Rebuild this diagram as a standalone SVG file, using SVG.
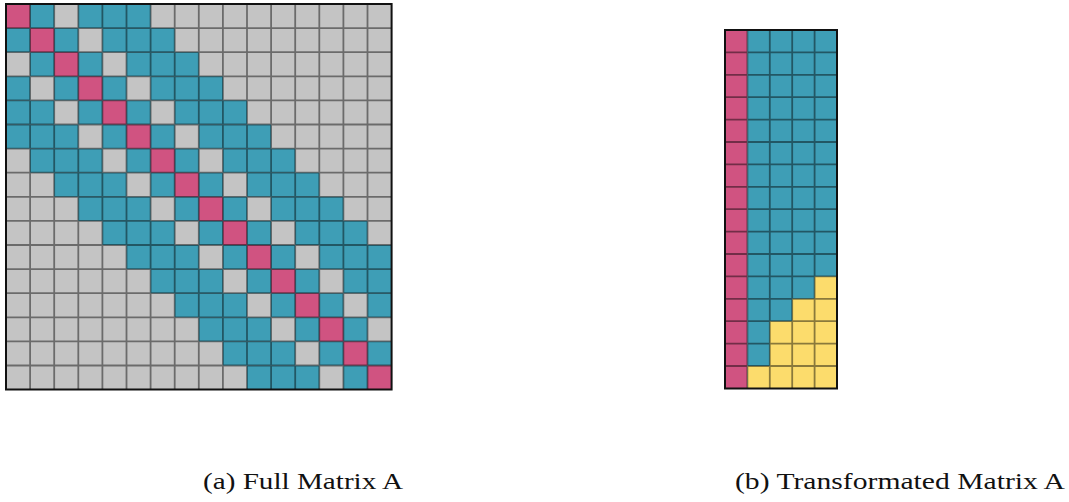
<svg xmlns="http://www.w3.org/2000/svg" width="1069" height="502" viewBox="0 0 1069 502">
<style>
.gry{fill:#c4c4c4}
.tea{fill:#3e9eb6}
.mag{fill:#d05381}
.yel{fill:#fcdc6c}
.grid{fill:none;stroke:#000;stroke-opacity:0.45;stroke-width:1.8}
.border{fill:none;stroke:#111;stroke-width:2}
.cap{font-family:"Liberation Serif","DejaVu Serif",serif;font-size:22.5px;fill:#111}
</style>
<rect width="1069" height="502" fill="#fff"/>
<g id="matrixA">
<g transform="translate(6,4) scale(24.1)">
<rect class="gry" x="0" y="0" width="16" height="16"/>
<g class="tea">
<rect x="0" y="0" width="6" height="1"/>
<rect x="0" y="1" width="7" height="1"/>
<rect x="0" y="2" width="8" height="1"/>
<rect x="0" y="3" width="9" height="1"/>
<rect x="0" y="4" width="10" height="1"/>
<rect x="0" y="5" width="11" height="1"/>
<rect x="1" y="6" width="11" height="1"/>
<rect x="2" y="7" width="11" height="1"/>
<rect x="3" y="8" width="11" height="1"/>
<rect x="4" y="9" width="11" height="1"/>
<rect x="5" y="10" width="11" height="1"/>
<rect x="6" y="11" width="10" height="1"/>
<rect x="7" y="12" width="9" height="1"/>
<rect x="8" y="13" width="8" height="1"/>
<rect x="9" y="14" width="7" height="1"/>
<rect x="10" y="15" width="6" height="1"/>
</g>
<g class="gry">
<rect x="2" y="0" width="1" height="1"/><rect x="0" y="2" width="1" height="1"/>
<rect x="3" y="1" width="1" height="1"/><rect x="1" y="3" width="1" height="1"/>
<rect x="4" y="2" width="1" height="1"/><rect x="2" y="4" width="1" height="1"/>
<rect x="5" y="3" width="1" height="1"/><rect x="3" y="5" width="1" height="1"/>
<rect x="6" y="4" width="1" height="1"/><rect x="4" y="6" width="1" height="1"/>
<rect x="7" y="5" width="1" height="1"/><rect x="5" y="7" width="1" height="1"/>
<rect x="8" y="6" width="1" height="1"/><rect x="6" y="8" width="1" height="1"/>
<rect x="9" y="7" width="1" height="1"/><rect x="7" y="9" width="1" height="1"/>
<rect x="10" y="8" width="1" height="1"/><rect x="8" y="10" width="1" height="1"/>
<rect x="11" y="9" width="1" height="1"/><rect x="9" y="11" width="1" height="1"/>
<rect x="12" y="10" width="1" height="1"/><rect x="10" y="12" width="1" height="1"/>
<rect x="13" y="11" width="1" height="1"/><rect x="11" y="13" width="1" height="1"/>
<rect x="14" y="12" width="1" height="1"/><rect x="12" y="14" width="1" height="1"/>
<rect x="15" y="13" width="1" height="1"/><rect x="13" y="15" width="1" height="1"/>
</g>
<g class="mag">
<rect x="0" y="0" width="1" height="1"/><rect x="1" y="1" width="1" height="1"/>
<rect x="2" y="2" width="1" height="1"/><rect x="3" y="3" width="1" height="1"/>
<rect x="4" y="4" width="1" height="1"/><rect x="5" y="5" width="1" height="1"/>
<rect x="6" y="6" width="1" height="1"/><rect x="7" y="7" width="1" height="1"/>
<rect x="8" y="8" width="1" height="1"/><rect x="9" y="9" width="1" height="1"/>
<rect x="10" y="10" width="1" height="1"/><rect x="11" y="11" width="1" height="1"/>
<rect x="12" y="12" width="1" height="1"/><rect x="13" y="13" width="1" height="1"/>
<rect x="14" y="14" width="1" height="1"/><rect x="15" y="15" width="1" height="1"/>
</g>
<path class="grid" vector-effect="non-scaling-stroke" d="M0 1H16M0 2H16M0 3H16M0 4H16M0 5H16M0 6H16M0 7H16M0 8H16M0 9H16M0 10H16M0 11H16M0 12H16M0 13H16M0 14H16M0 15H16M1 0V16M2 0V16M3 0V16M4 0V16M5 0V16M6 0V16M7 0V16M8 0V16M9 0V16M10 0V16M11 0V16M12 0V16M13 0V16M14 0V16M15 0V16"/>
<rect class="border" vector-effect="non-scaling-stroke" x="0" y="0" width="16" height="16"/>
</g>
</g>
<g id="matrixB">
<g transform="translate(725,30) scale(22.4)">
<rect class="mag" x="0" y="0" width="1" height="16"/>
<rect class="tea" x="1" y="0" width="4" height="16"/>
<polygon class="yel" points="4,11 5,11 5,16 1,16 1,15 2,15 2,13 3,13 3,12 4,12"/>
<path class="grid" vector-effect="non-scaling-stroke" d="M0 1H5M0 2H5M0 3H5M0 4H5M0 5H5M0 6H5M0 7H5M0 8H5M0 9H5M0 10H5M0 11H5M0 12H5M0 13H5M0 14H5M0 15H5M1 0V16M2 0V16M3 0V16M4 0V16"/>
<rect class="border" vector-effect="non-scaling-stroke" x="0" y="0" width="5" height="16"/>
</g>
</g>
<g id="captions">
<text class="cap" x="203" y="489" textLength="200" lengthAdjust="spacingAndGlyphs">(a) Full Matrix A</text>
<text class="cap" x="735" y="489" textLength="330" lengthAdjust="spacingAndGlyphs">(b) Transformated Matrix A</text>
</g>
</svg>
